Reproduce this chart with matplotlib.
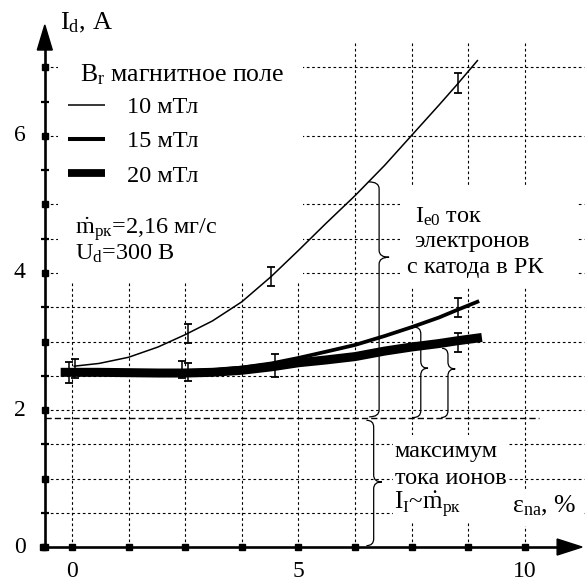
import matplotlib
matplotlib.use("Agg")
import matplotlib.pyplot as plt
from matplotlib.path import Path
from matplotlib.patches import PathPatch, Polygon, Rectangle

plt.rcParams['font.serif'] = ['Liberation Serif', 'Times New Roman', 'DejaVu Serif']
plt.rcParams['font.family'] = 'serif'
plt.rcParams['mathtext.fontset'] = 'custom'
plt.rcParams['mathtext.rm'] = 'Liberation Serif'
plt.rcParams['mathtext.it'] = 'Liberation Serif:italic'
plt.rcParams['mathtext.bf'] = 'Liberation Serif:bold'
plt.rcParams['mathtext.default'] = 'regular'

# ---------------- data ----------------
x_10 = [0.05, 0.6, 1.25, 1.9, 2.5, 3.1, 3.75, 4.4, 5.0, 5.6, 6.25, 6.9, 7.5, 8.1, 8.5, 8.95]
y_10 = [2.64, 2.68, 2.77, 2.92, 3.10, 3.30, 3.58, 3.95, 4.33, 4.72, 5.13, 5.57, 6.01, 6.45, 6.75, 7.10]

x_15 = [-0.15, 0.6, 1.25, 1.9, 2.5, 3.1, 3.75, 4.4, 5.0, 5.6, 6.25, 6.9, 7.5, 8.1, 8.5, 8.95]
y_15 = [2.58, 2.575, 2.57, 2.57, 2.57, 2.58, 2.62, 2.68, 2.76, 2.85, 2.95, 3.08, 3.21, 3.35, 3.46, 3.58]

x_20 = [-0.15, 0.6, 1.25, 1.9, 2.5, 3.1, 3.75, 4.4, 5.0, 5.6, 6.25, 6.9, 7.5, 8.1, 8.5, 8.95]
y_20 = [2.55, 2.55, 2.545, 2.54, 2.54, 2.55, 2.58, 2.63, 2.69, 2.73, 2.78, 2.86, 2.92, 2.97, 3.01, 3.05]

err10_x = [2.56, 4.39, 8.52]
err10_y = [3.12, 3.95, 6.77]
err10_e = [0.14, 0.14, 0.145]

err15_x = [0.07, 2.43, 4.48, 8.52]
err15_y = [2.60, 2.59, 2.65, 3.50]
err15_e = [0.14, 0.12, 0.17, 0.14]

err20_x = [-0.07, 2.56, 8.52]
err20_y = [2.55, 2.55, 2.985]
err20_e = [0.155, 0.13, 0.135]

ion_level = 1.88            # dashed line: maximum ion current

y_tick_labels = ['0', '2', '4', '6']
y_tick_vals = [0, 2, 4, 6]
x_tick_labels = ['0', '5', '10']
x_tick_vals = [0, 5, 10]

legend_labels = ['10 мТл', '15 мТл', '20 мТл']

# ---------------- figure ----------------
fig = plt.figure(figsize=(5.85, 5.81), dpi=100)
ax = fig.add_axes([0, 0, 1, 1])
ax.set_xlim(-1.589, 11.325)
ax.set_ylim(-0.496, 7.985)
ax.axis('off')

PX = 1 / 45.3   # x units per pixel
PY = 1 / 68.5   # y units per pixel
X0 = -0.6       # y axis position

grid_kw = dict(color='k', lw=0.8, linestyle=(0, (2.4, 2.4)), zorder=1)
xg = [i * 1.25 for i in range(9)]
for xv in xg:
    ax.plot([xv, xv], [0, 7.36], **grid_kw)
yg = [0.5 * i for i in range(1, 15) if 0.5 * i not in (5.5, 6.5)]
for yv in yg:
    ax.plot([X0, 11.3], [yv, yv], **grid_kw)

masks = [(-0.3, 3.86, 5.1 + 0.3, 7.6 - 3.86),
         (7.24, 3.78, 11.17 - 7.24, 5.26 - 3.78),
         (7.09, 0.35, 9.6 - 7.09, 1.64 - 0.35),
         (9.6, 0.3, 11.3 - 9.6, 0.55)]
for (mx, my, mw, mh) in masks:
    ax.add_patch(Rectangle((mx, my), mw, mh, facecolor='white', edgecolor='none', zorder=1.5))

ax.plot([X0, 10.3], [ion_level, ion_level], color='k', lw=1.0,
        linestyle=(0, (4.5, 2.2)), zorder=2)

# axes
ax.plot([X0, X0], [-0.01, 7.3], color='k', lw=1.9, zorder=4, solid_capstyle='butt')
ax.plot([X0 - 0.05, 10.75], [0, 0], color='k', lw=1.9, zorder=4, solid_capstyle='butt')
ax.add_patch(Polygon([[X0, 7.62], [X0 - 7.5 * PX, 7.255], [X0 + 7.5 * PX, 7.255]],
                     closed=True, facecolor='k', edgecolor='k', zorder=4))
ax.add_patch(Polygon([[11.26, 0], [10.71, 8 * PY], [10.71, -8 * PY]],
                     closed=True, facecolor='k', edgecolor='k', zorder=4))

ax.plot([X0] * 8, list(range(8)), 's', color='k', ms=4.2, zorder=5)
ax.plot([X0] * 7, [0.5 + i for i in range(7)], '_', color='k', ms=6, mew=1.6, zorder=5)
ax.plot(xg + [X0 - 0.04], [0] * 10, 's', color='k', ms=4.2, zorder=5)

for v, s in zip(y_tick_vals, y_tick_labels):
    ax.text(-1.15, v, s, fontsize=17, ha='center', va='center', zorder=6)
for v, s in zip(x_tick_vals, x_tick_labels):
    ax.text(v, -0.36, s, fontsize=17, ha='center', va='center', zorder=6)

ax.plot(x_10, y_10, color='k', lw=1.1, zorder=3, solid_joinstyle='round')
ax.plot(x_15, y_15, color='k', lw=2.7, zorder=3, solid_joinstyle='round')
ax.plot(x_20, y_20, color='k', lw=6.5, zorder=3, solid_joinstyle='round')

eb_kw = dict(fmt='none', ecolor='k', elinewidth=1.1, capsize=3.2, capthick=1.3, zorder=3.5)
ax.errorbar(err10_x, err10_y, yerr=err10_e, **eb_kw)
ax.errorbar(err15_x, err15_y, yerr=err15_e, **eb_kw)
ax.errorbar(err20_x, err20_y, yerr=err20_e, **eb_kw)


def brace(x0, y1, y2, yt, xl_top, xl_bot, xt, ry=0.1, ryt=0.1):
    verts = [(xl_top, y2), (x0, y2), (x0, y2 - ry),
             (x0, yt + ryt),
             (x0, yt), (xt, yt),
             (x0, yt), (x0, yt - ryt),
             (x0, y1 + ry),
             (x0, y1), (xl_bot, y1)]
    codes = [Path.MOVETO, Path.CURVE3, Path.CURVE3,
             Path.LINETO,
             Path.CURVE3, Path.CURVE3,
             Path.CURVE3, Path.CURVE3,
             Path.LINETO,
             Path.CURVE3, Path.CURVE3]
    ax.add_patch(PathPatch(Path(verts, codes), facecolor='none', edgecolor='k',
                           lw=0.9, zorder=3))


brace(6.78, 1.90, 5.33, 4.23, 6.55, 6.56, 7.0)
brace(6.66, 0.02, 1.85, 0.95, 6.50, 6.50, 6.84)
brace(7.70, 1.89, 3.21, 2.61, 7.55, 7.53, 7.86)
brace(8.30, 1.89, 2.90, 2.60, 8.17, 8.15, 8.46)

TK = dict(ha='left', va='baseline', zorder=6)
ax.text(-0.265, 7.55, 'I$_{d}$, A', fontsize=19, **TK)
ax.text(0.177, 6.79, 'B$_{r}$ магнитное поле', fontsize=18.5, **TK)
leg_y = [6.45, 5.96, 5.46]
leg_lw = [1.1, 2.9, 5.6]
leg_base = [6.34, 5.84, 5.33]
for yy, lw, yb, lab in zip(leg_y, leg_lw, leg_base, legend_labels):
    ax.plot([-0.09, 0.73], [yy, yy], color='k', lw=lw, solid_capstyle='butt', zorder=6)
    ax.text(1.21, yb, lab, fontsize=17.5, **TK)

ax.text(0.07, 4.58, r'$\dot{m}_{рк}$=2,16 мг/с', fontsize=17.5, **TK)
ax.text(0.07, 4.19, 'U$_{d}$=300 В', fontsize=17.5, **TK)

ax.text(7.57, 4.73, 'I$_{e0}$ ток', fontsize=17.5, **TK)
ax.text(7.55, 4.38, 'электронов', fontsize=17.5, **TK)
ax.text(7.40, 4.00, 'с катода в РК', fontsize=17.5, **TK)

ax.text(7.13, 1.31, 'максимум', fontsize=17.5, **TK)
ax.text(7.13, 0.92, 'тока ионов', fontsize=17.5, **TK)
ax.text(7.11, 0.54, r'I$_{I}$~$\dot{m}_{рк}$', fontsize=18, **TK)

ax.text(9.71, 0.50, 'ε$_{na}$, %', fontsize=18.5, **TK)

fig.savefig('out.png', dpi=100)
